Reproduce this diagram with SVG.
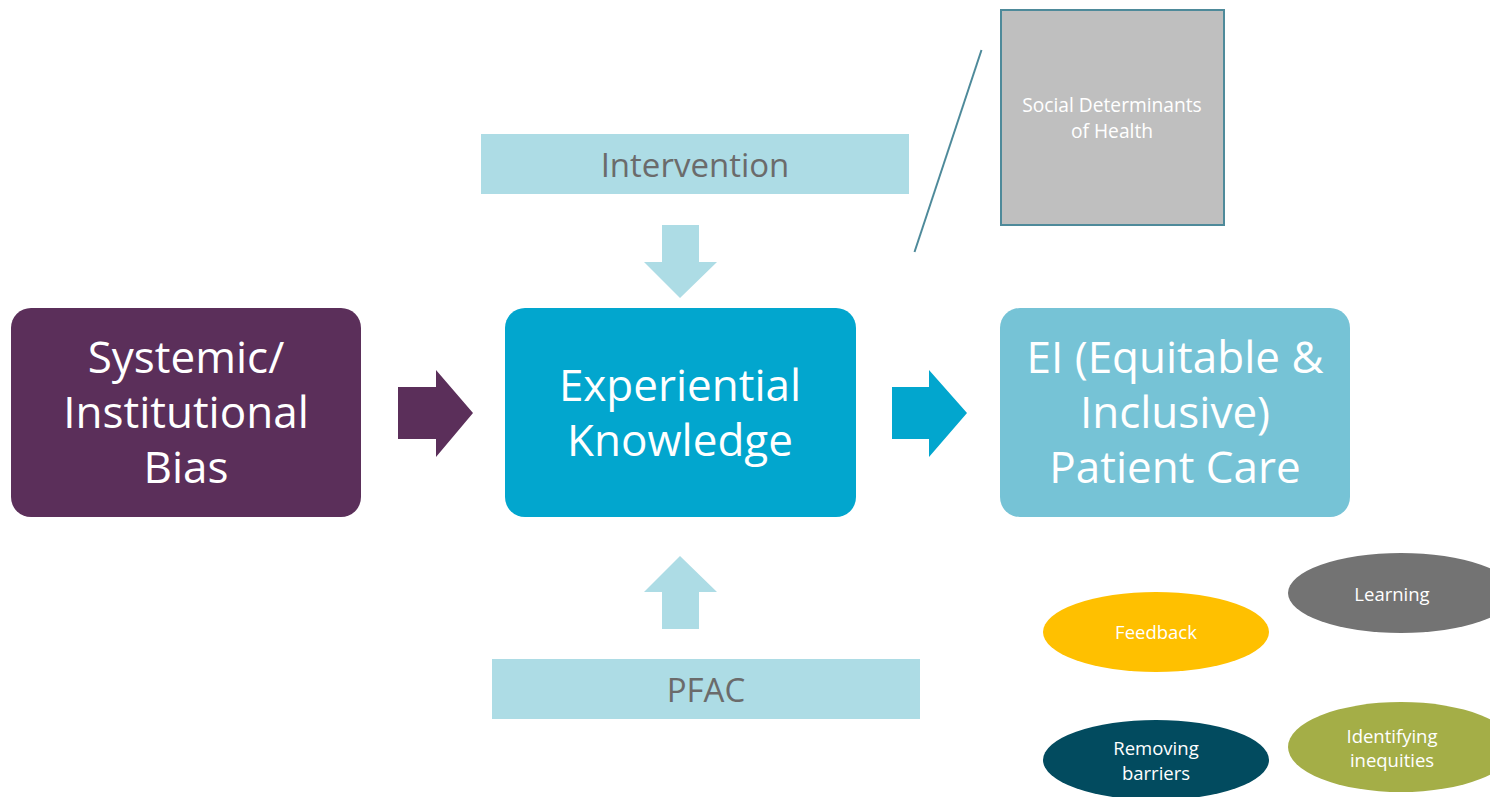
<svg xmlns="http://www.w3.org/2000/svg" width="1490" height="797" viewBox="0 0 1490 797">
<style>
.big{font-family:"Open Sans","Noto Sans","Liberation Sans",sans-serif;font-size:44px;fill:#ffffff;text-anchor:middle;dominant-baseline:central}
.mid{font-family:"Open Sans","Noto Sans","Liberation Sans",sans-serif;font-size:33px;fill:#6b6b6b;text-anchor:middle;dominant-baseline:central}
.sm{font-family:"Open Sans","Noto Sans","Liberation Sans",sans-serif;font-size:18.5px;fill:#ffffff;text-anchor:middle;dominant-baseline:central}
.sd{font-size:19.2px}
.band{fill:#addce5}
</style>
<rect width="1490" height="797" fill="#ffffff"/>
<g id="connectors">
<polygon points="398,387 436,387 436,370 473,413 436,457 436,439 398,439" fill="#5b2f5a"/>
<polygon points="892,387 929,387 929,370 967,413 929,457 929,439 892,439" fill="#02a6ce"/>
<polygon points="662,225 699,225 699,262 717,262 680,298 644,262 662,262" fill="#addce5"/>
<polygon points="662,629 699,629 699,592 717,592 680,556 644,592 662,592" fill="#addce5"/>
<line x1="981.5" y1="50" x2="914.5" y2="252" stroke="#4e8a9a" stroke-width="2"/>
</g>
<g id="systemic">
<rect x="11" y="308" width="350" height="209" rx="20" fill="#5b2f5a"/>
<text class="big" x="186" y="356">Systemic/</text>
<text class="big" x="186" y="411">Institutional</text>
<text class="big" x="186" y="466">Bias</text>
</g>
<g id="experiential">
<rect x="505" y="308" width="351" height="209" rx="20" fill="#02a6ce"/>
<text class="big" x="680" y="384">Experiential</text>
<text class="big" x="680" y="439">Knowledge</text>
</g>
<g id="ei">
<rect x="1000" y="308" width="350" height="209" rx="20" fill="#76c3d6"/>
<text class="big" x="1175" y="356">EI (Equitable &amp;</text>
<text class="big" x="1175" y="411">Inclusive)</text>
<text class="big" x="1175" y="466">Patient Care</text>
</g>
<g id="intervention">
<rect class="band" x="481" y="134" width="428" height="60"/>
<text class="mid" x="695" y="164">Intervention</text>
</g>
<g id="pfac">
<rect class="band" x="492" y="659" width="428" height="60"/>
<text class="mid" x="706" y="689">PFAC</text>
</g>
<g id="sdoh">
<rect x="1001" y="10" width="223" height="215" fill="#bfbfbf" stroke="#4e8a9a" stroke-width="2"/>
<text class="sm sd" x="1112" y="104">Social Determinants</text>
<text class="sm sd" x="1112" y="130">of Health</text>
</g>
<g id="feedback">
<ellipse cx="1156" cy="632" rx="113" ry="40" fill="#ffc000"/>
<text class="sm" x="1156" y="631">Feedback</text>
</g>
<g id="learning">
<ellipse cx="1401" cy="593" rx="113" ry="40" fill="#737373"/>
<text class="sm" x="1392" y="593">Learning</text>
</g>
<g id="removing">
<ellipse cx="1156" cy="760" rx="113" ry="40" fill="#024b5f"/>
<text class="sm" x="1156" y="747">Removing</text>
<text class="sm" x="1156" y="772">barriers</text>
</g>
<g id="identifying">
<ellipse cx="1401" cy="747" rx="113" ry="45" fill="#a4ae47"/>
<text class="sm" x="1392" y="735">Identifying</text>
<text class="sm" x="1392" y="759">inequities</text>
</g>
</svg>
